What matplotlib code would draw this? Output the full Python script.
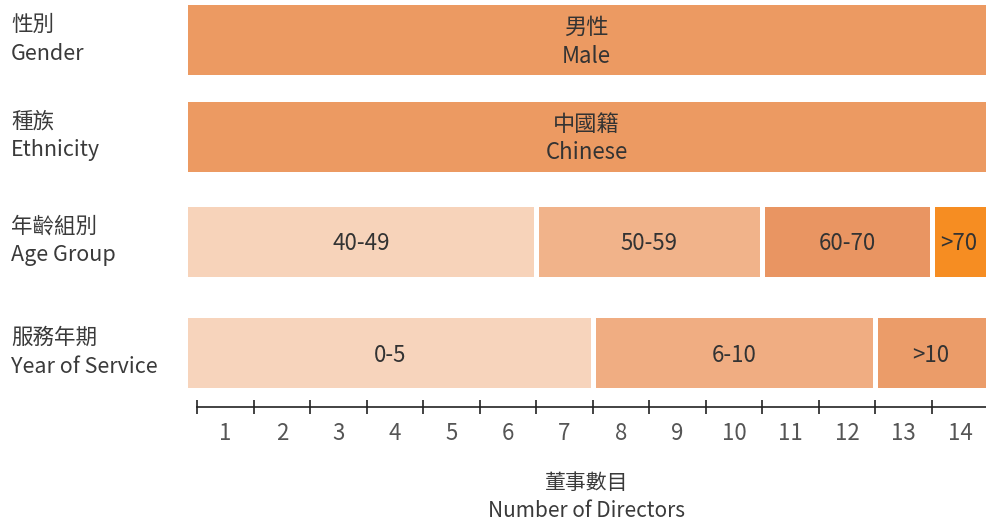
import numpy as np
import matplotlib
matplotlib.use("Agg")
import matplotlib.pyplot as plt
import matplotlib.transforms as mtransforms

plt.rcParams['font.family'] = ['Noto Sans CJK TC', 'DejaVu Sans']

# data
row_labels = ["性別\nGender", "種族\nEthnicity", "年齡組別\nAge Group", "服務年期\nYear of Service"]
gender_counts = [14]
gender_names = ["男性\nMale"]
ethnic_counts = [14]
ethnic_names = ["中國籍\nChinese"]
age_counts = [6, 4, 3, 1]
age_names = ["40-49", "50-59", "60-70", ">70"]
service_counts = [7, 5, 2]
service_names = ["0-5", "6-10", ">10"]
tick_labels = [str(i) for i in range(1, 15)]

rows = [
    (gender_counts, gender_names, ["#EC9A62"]),
    (ethnic_counts, ethnic_names, ["#EC9A62"]),
    (age_counts, age_names, ["#F7D3BA", "#F1B38A", "#E99562", "#F68D22"]),
    (service_counts, service_names, ["#F7D4BC", "#F0AD82", "#EB9C69"]),
]

# layout (figure pixels, y axis runs top to bottom)
W, H = 986, 522
row_y = [39.5, 136, 241, 352.5]
bar_h = 75
xmin, xmax = -0.18, 13.96
pad = 0.22
text_col = "#333333"

fig = plt.figure(figsize=(W / 100, H / 100), dpi=100)
ax = fig.add_axes([187 / W, 0, 799 / W, 1])
ax.set_xlim(xmin, xmax)
ax.set_ylim(H, 0)

for y, (counts, names, cols) in zip(row_y, rows):
    lefts = np.concatenate([[0], np.cumsum(counts)[:-1]])
    for left, w, name, c in zip(lefts, counts, names, cols):
        l = left - pad if left == 0 else left
        r = left + w
        ax.barh(y, r - l, left=l, height=bar_h, color=c, edgecolor="white", linewidth=3.6)
        cx = (max(l, xmin) + min(r, xmax)) / 2
        ax.text(cx, y + 2.5, name, ha="center", va="center", fontsize=16,
                color=text_col, linespacing=1.3)

# row labels on the left
trans = mtransforms.blended_transform_factory(fig.transFigure, ax.transData)
for y, lab in zip(row_y, row_labels):
    ax.text(11 / W, y, lab, transform=trans, ha="left", va="center",
            fontsize=15.5, color="#3a3a3a", linespacing=1.4)

# axis
for s in ["top", "right", "left"]:
    ax.spines[s].set_visible(False)
ax.spines["bottom"].set_position(("data", 407))
ax.spines["bottom"].set_bounds(0, 14)
ax.spines["bottom"].set_linewidth(1.2)
ax.spines["bottom"].set_color("#222222")
ax.set_yticks([])
ax.set_xticks(range(0, 14))
ax.set_xticklabels([])
ax.tick_params(axis="x", which="major", direction="inout", length=10, width=1.2, color="#222222")
ax.set_xticks(np.arange(0.5, 14, 1), minor=True)
ax.set_xticklabels(tick_labels, minor=True)
ax.tick_params(axis="x", which="minor", length=0, pad=11, labelsize=16, labelcolor="#555555")

ax.text((xmin + xmax) / 2, 497, "董事數目\nNumber of Directors", ha="center", va="center",
        fontsize=15, color="#3a3a3a", linespacing=1.3)

fig.savefig("out.png", dpi=100)
